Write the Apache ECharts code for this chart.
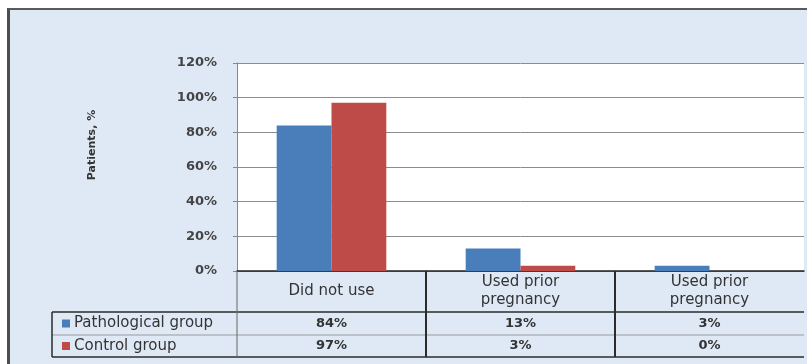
<!DOCTYPE html>
<html><head><meta charset="utf-8">
<script src="https://cdn.jsdelivr.net/npm/echarts@6/dist/echarts.min.js"></script>
<style>
html,body{margin:0;padding:0;background:#fff;}
#frame{position:absolute;left:7px;top:8px;width:800px;height:356px;background:#dfe9f5;border-left:3px solid #4d4d4d;border-top:2px solid #5a5a5a;box-sizing:border-box;}
#chart{position:absolute;left:0;top:0;width:807px;height:364px;}
</style></head><body>
<div id="frame"></div><div id="chart"></div>
<script>
const categories = ['Did not use', 'Used prior\npregnancy', 'Used prior\npregnancy'];
const seriesNames = ['Pathological group', 'Control group'];
const pathological = [84, 13, 3];
const control = [97, 3, 0];
const seriesColors = ['#4a7ebb', '#be4b48'];
const yAxisTitle = 'Patients, %';

const FONT = 'DejaVu Sans';
const chart = echarts.init(document.getElementById('chart'));
chart.setOption({
  animation: false,
  grid: { left: 237, right: 3, top: 63, bottom: 93, show: true, backgroundColor: '#ffffff', borderWidth: 0 },
  xAxis: {
    type: 'category', data: categories,
    axisLine: { show: true, lineStyle: { color: '#222', width: 1.5 } },
    axisTick: { show: false },
    axisLabel: { margin: 20, verticalAlign: 'middle', fontFamily: FONT, fontSize: 15, color: '#333', lineHeight: 18, interval: 0 }
  },
  yAxis: {
    type: 'value', min: 0, max: 120, interval: 20,
    axisLine: { show: true, lineStyle: { color: '#888', width: 1 } },
    axisTick: { show: true, length: 4, lineStyle: { color: '#888' } },
    axisLabel: { formatter: '{value}%', margin: 20, fontFamily: FONT, fontSize: 13, fontWeight: 'bold', color: '#444' },
    splitLine: { show: true, lineStyle: { color: '#8c8c8c', width: 1 } }
  },
  series: [
    { name: seriesNames[0], type: 'bar', data: pathological, barGap: '0%', barCategoryGap: '42%', itemStyle: { color: seriesColors[0] } },
    { name: seriesNames[1], type: 'bar', data: control, barGap: '0%', barCategoryGap: '42%', itemStyle: { color: seriesColors[1] } }
  ]
});

// Build data table below the plot from the axis scale
const centers = categories.map((c, i) => chart.convertToPixel({ xAxisIndex: 0 }, i));
const half = (centers[1] - centers[0]) / 2;
const leftX = centers[0] - half;
const rightX = centers[centers.length - 1] + half;
const y0 = chart.convertToPixel({ yAxisIndex: 0 }, 0);
const headerBottom = y0 + 41;
const row1Bottom = headerBottom + 23;
const row2Bottom = row1Bottom + 22;
const legendLeft = 52;
const dark = '#2b2b2b';
const g = [];
function line(x1, y1, x2, y2, color, w) {
  g.push({ type: 'line', shape: { x1, y1, x2, y2 }, style: { stroke: color, lineWidth: w }, z: 50 });
}
line(legendLeft, headerBottom, rightX, headerBottom, dark, 1.5);
line(legendLeft, row1Bottom, rightX, row1Bottom, '#9a9a9a', 1);
line(legendLeft, row2Bottom, rightX, row2Bottom, dark, 1.5);
line(legendLeft, headerBottom, legendLeft, row2Bottom, dark, 1.5);
line(leftX, y0, leftX, row2Bottom, '#666', 1);
for (let i = 1; i < categories.length; i++) {
  const bx = centers[i] - half;
  line(bx, y0, bx, row2Bottom, dark, 2);
}
const rows = [pathological, control];
rows.forEach((vals, r) => {
  const cy = r === 0 ? (headerBottom + row1Bottom) / 2 : (row1Bottom + row2Bottom) / 2;
  vals.forEach((v, i) => {
    g.push({ type: 'text', x: centers[i], y: cy, z: 50,
      style: { text: v + '%', align: 'center', verticalAlign: 'middle', font: 'bold 13px "' + FONT + '"', fill: '#333' } });
  });
  g.push({ type: 'rect', shape: { x: 62, y: cy - 4, width: 8, height: 8 }, style: { fill: seriesColors[r] }, z: 50 });
  g.push({ type: 'text', x: 74, y: cy, z: 50,
    style: { text: seriesNames[r], align: 'left', verticalAlign: 'middle', font: '15px "' + FONT + '"', fill: '#333' } });
});
g.push({ type: 'text', x: 92, y: 145, rotation: Math.PI / 2, z: 50,
  style: { text: yAxisTitle, align: 'center', verticalAlign: 'middle', font: 'bold 11px "' + FONT + '"', fill: '#333' } });
chart.setOption({ graphic: g });
</script>
</body></html>
